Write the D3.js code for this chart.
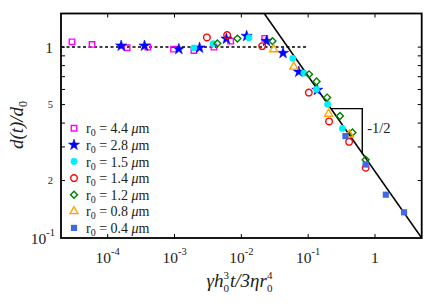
<!DOCTYPE html>
<html>
<head>
<meta charset="utf-8">
<script src="https://cdn.jsdelivr.net/npm/d3@7"></script>
<style>
  html, body { margin: 0; padding: 0; background: #fff; }
  svg text { font-family: "Liberation Serif", "DejaVu Serif", serif; fill: #222; }
</style>
</head>
<body>
<div id="chart"></div>
<script>
// Series values (x = scaled time, y = d(t)/d0)
const r44x = [2.92e-5, 5.83e-5, 1.95e-4, 3.98e-4, 9.66e-4, 1.95e-3, 3.89e-3, 6.92e-3, 0.0224];
const r44y = [1.066, 1.033, 0.992, 1.0, 0.976, 0.959, 1.0, 1.075, 1.111];

const r28x = [1.59e-4, 3.55e-4, 1.16e-3, 2.37e-3, 5.97e-3, 0.012, 0.0238, 0.0421, 0.0724, 0.137];
const r28y = [1.016, 1.016, 0.976, 0.992, 1.105, 1.142, 1.075, 0.930, 0.742, 0.596];

const r15x = [1.95e-3, 3.78e-3, 0.013, 0.0589, 0.0861, 0.1326, 0.1952, 0.3255];
const r15y = [0.992, 1.043, 1.121, 0.873, 0.731, 0.600, 0.502, 0.375];

const r14x = [3.05e-3, 6.13e-3, 0.0205, 0.1023, 0.2056, 0.41, 0.725];
const r14y = [1.124, 1.156, 1.012, 0.578, 0.408, 0.319, 0.2335];

const r12x = [4.37e-3, 8.73e-3, 0.0292, 0.1031, 0.1335, 0.192, 0.2985, 0.46, 0.725];
const r12y = [1.046, 1.108, 1.075, 0.720, 0.661, 0.544, 0.436, 0.357, 0.257];

const r08x = [0.0305, 0.061, 0.202, 0.4145];
const r08y = [0.973, 0.789, 0.447, 0.348];

const r04x = [0.361, 0.725, 1.452, 2.72];
const r04y = [0.342, 0.2425, 0.1686, 0.1363];

const legendLabels = ['4.4', '2.8', '1.5', '1.4', '1.2', '0.8', '0.4'];

// reference lines
const plateauX = [2e-5, 0.1];
const plateauY = [1, 1];
const fitX = [0.022, 5];
const fitY = [1.5, 0.1];
const slopeX = [0.22, 0.645, 0.645];
const slopeY = [0.476, 0.476, 0.278];

// axes
const xTicks = [1e-4, 1e-3, 1e-2, 1e-1, 1];
const xTickLabels = [['10', '-4'], ['10', '-3'], ['10', '-2'], ['10', '-1'], ['1', '']];
const yTicks = [0.2, 0.3, 0.4, 0.5, 0.6, 0.7, 0.8, 0.9, 1];
const yLabelVals = [1, 0.5, 0.2];
const yLabelText = ['1', '5', '2'];

const width = 436, height = 307;
const margin = { top: 13.5, right: 14.3, bottom: 69, left: 61 };
const iw = width - margin.left - margin.right;
const ih = height - margin.top - margin.bottom;

const svg = d3.select('#chart').append('svg')
  .attr('width', width)
  .attr('height', height);

const g = svg.append('g').attr('transform', `translate(${margin.left},${margin.top})`);

const x = d3.scaleLog().domain([2e-5, 5]).range([0, iw]);
const y = d3.scaleLog().domain([0.1, 1.5]).range([ih, 0]);

// Ticks (inward, all four sides)
const tickLen = 4;
g.append('g').selectAll('line').data(xTicks).join('line')
  .attr('x1', d => x(d)).attr('x2', d => x(d))
  .attr('y1', ih).attr('y2', ih - tickLen)
  .attr('stroke', '#000').attr('stroke-width', 1);
g.append('g').selectAll('line').data(xTicks).join('line')
  .attr('x1', d => x(d)).attr('x2', d => x(d))
  .attr('y1', 0).attr('y2', tickLen)
  .attr('stroke', '#000').attr('stroke-width', 1);
g.append('g').selectAll('line').data(yTicks).join('line')
  .attr('x1', 0).attr('x2', tickLen)
  .attr('y1', d => y(d)).attr('y2', d => y(d))
  .attr('stroke', '#000').attr('stroke-width', 1);
g.append('g').selectAll('line').data(yTicks).join('line')
  .attr('x1', iw).attr('x2', iw - tickLen)
  .attr('y1', d => y(d)).attr('y2', d => y(d))
  .attr('stroke', '#000').attr('stroke-width', 1);

// X tick labels
const xl = g.append('g').selectAll('text').data(xTicks).join('text')
  .attr('x', d => x(d))
  .attr('y', ih + 25)
  .attr('text-anchor', 'middle')
  .attr('font-size', 15.5);
xl.append('tspan').text((d, i) => xTickLabels[i][0]);
xl.append('tspan').attr('dy', -8).attr('font-size', 10.5).text((d, i) => xTickLabels[i][1]);

// Y tick labels
g.append('g').selectAll('text').data(yLabelVals).join('text')
  .attr('x', -8)
  .attr('y', d => y(d))
  .attr('dy', '0.35em')
  .attr('text-anchor', 'end')
  .attr('font-size', (d, i) => i === 0 ? 15.5 : 10.5)
  .text((d, i) => yLabelText[i]);
const y01 = g.append('text')
  .attr('x', -6).attr('y', y(0.1) + 6)
  .attr('text-anchor', 'end')
  .attr('font-size', 15.5);
y01.append('tspan').text('10');
y01.append('tspan').attr('dy', -8).attr('font-size', 10.5).text('-1');

// Reference lines
const line = d3.line().x(d => x(d[0])).y(d => y(d[1]));
g.append('path')
  .attr('d', line(d3.zip(plateauX, plateauY)))
  .attr('fill', 'none').attr('stroke', '#000')
  .attr('stroke-width', 1.5).attr('stroke-dasharray', '3,2.5');
g.append('path')
  .attr('d', line(d3.zip(fitX, fitY)))
  .attr('fill', 'none').attr('stroke', '#000').attr('stroke-width', 1.5);
g.append('path')
  .attr('d', line(d3.zip(slopeX, slopeY)))
  .attr('fill', 'none').attr('stroke', '#000').attr('stroke-width', 1.4);
g.append('text')
  .attr('x', x(slopeX[2]) + 5)
  .attr('y', y(d3.mean([slopeY[0], slopeY[2]])) + 5)
  .attr('font-size', 14.5)
  .text('-1/2');

// Series
const series = [
  { xs: r44x, ys: r44y, type: d3.symbolSquare, size: 30, color: '#ff00ff', fill: false, rot: 0 },
  { xs: r28x, ys: r28y, type: d3.symbolStar, size: 38, color: '#0000ff', fill: true, rot: 0 },
  { xs: r15x, ys: r15y, type: d3.symbolCircle, size: 36, color: '#00f0f8', fill: true, rot: 0 },
  { xs: r14x, ys: r14y, type: d3.symbolCircle, size: 34, color: '#ff0000', fill: false, rot: 0 },
  { xs: r12x, ys: r12y, type: d3.symbolSquare, size: 24, color: '#008000', fill: false, rot: 45 },
  { xs: r08x, ys: r08y, type: d3.symbolTriangle, size: 28, color: '#ffa500', fill: false, rot: 0 },
  { xs: r04x, ys: r04y, type: d3.symbolSquare, size: 38, color: '#4169e1', fill: true, rot: 0 }
];

series.forEach(s => {
  const sym = d3.symbol().type(s.type).size(s.size);
  g.append('g').selectAll('path').data(d3.zip(s.xs, s.ys)).join('path')
    .attr('d', sym)
    .attr('transform', d => `translate(${x(d[0])},${y(d[1])}) rotate(${s.rot})`)
    .attr('fill', s.fill ? s.color : 'none')
    .attr('stroke', s.fill && s.type !== d3.symbolStar ? 'none' : s.color)
    .attr('stroke-width', s.fill ? 0.6 : 1.4);
});

// Legend
const legend = g.append('g').attr('transform', `translate(${74 - margin.left},${128.3 - margin.top})`);
series.forEach((s, i) => {
  const row = legend.append('g').attr('transform', `translate(0,${i * 16.6})`);
  row.append('path')
    .attr('d', d3.symbol().type(s.type).size(s.size)())
    .attr('transform', `rotate(${s.rot})`)
    .attr('fill', s.fill ? s.color : 'none')
    .attr('stroke', s.fill && s.type !== d3.symbolStar ? 'none' : s.color)
    .attr('stroke-width', s.fill ? 0.6 : 1.4);
  const t = row.append('text').attr('x', 12).attr('y', 5).attr('font-size', 14);
  t.append('tspan').text('r');
  t.append('tspan').attr('dy', 3).attr('font-size', 10).text('0');
  t.append('tspan').attr('dy', -3).text(` = ${legendLabels[i]} `);
  t.append('tspan').attr('font-style', 'italic').text('μ');
  t.append('tspan').text('m');
});

// Frame
g.append('rect')
  .attr('width', iw).attr('height', ih)
  .attr('fill', 'none').attr('stroke', '#000').attr('stroke-width', 1.8);

// X axis title: pieces laid out left to right, sub/superscripts stacked
const xtParts = [
  { t: 'γh', size: 19, dy: 0 },
  { t: '0', size: 11, dy: 5, stackSup: '3' },
  { t: 't/3ηr', size: 19, dy: 0 },
  { t: '0', size: 11, dy: 5, stackSup: '4' }
];
const xt = svg.append('g').attr('font-style', 'italic');
let cx = 0;
const baseY = 287;
xtParts.forEach(p => {
  const el = xt.append('text')
    .attr('x', cx).attr('y', baseY + p.dy)
    .attr('font-size', p.size)
    .attr('font-style', p.stackSup ? 'normal' : 'italic')
    .text(p.t);
  let w = el.node().getComputedTextLength();
  if (p.stackSup) {
    const sup = xt.append('text')
      .attr('x', cx).attr('y', baseY - 8)
      .attr('font-size', p.size)
      .attr('font-style', 'normal')
      .text(p.stackSup);
    w = Math.max(w, sup.node().getComputedTextLength());
  }
  cx += w + (p.stackSup ? 1 : 0);
});
xt.attr('transform', `translate(${240 - cx / 2},0)`);

const yt = svg.append('text')
  .attr('transform', 'translate(23,125) rotate(-90)')
  .attr('text-anchor', 'middle')
  .attr('font-size', 19)
  .attr('font-style', 'italic');
yt.append('tspan').text('d(t)/d');
yt.append('tspan').attr('font-size', 12).attr('dy', 4).attr('font-style', 'normal').text('0');
</script>
</body>
</html>
